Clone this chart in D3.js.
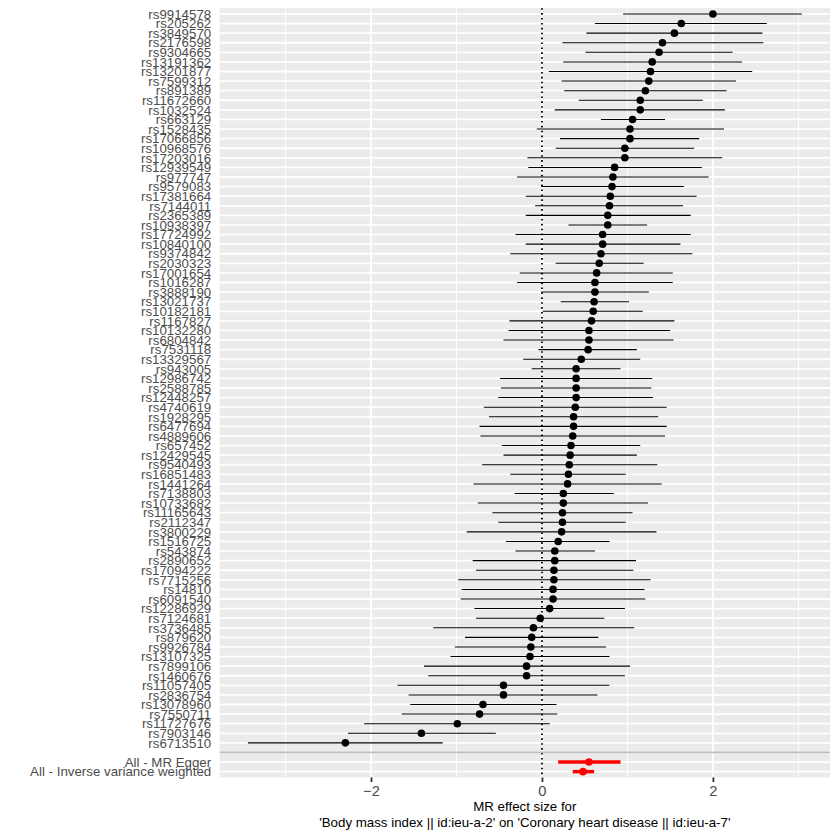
<!DOCTYPE html>
<html>
<head>
<meta charset="utf-8">
<script src="https://cdn.jsdelivr.net/npm/d3@7"></script>
<style>
  body { margin: 0; background: #fff; }
  svg { font-family: "Liberation Sans", Arial, sans-serif; }
</style>
</head>
<body>
<div id="chart"></div>
<script>
// SNP rows, top to bottom
var snps = ["rs9914578","rs205262","rs3849570","rs2176598","rs9304665","rs13191362","rs13201877","rs7599312",
  "rs891389","rs11672660","rs1032524","rs663129","rs1528435","rs17066856","rs10968576","rs17203016",
  "rs12939549","rs977747","rs9579083","rs17381664","rs7144011","rs2365389","rs10938397","rs17724992",
  "rs10840100","rs9374842","rs2030323","rs17001654","rs1016287","rs3888190","rs13021737","rs10182181",
  "rs1167827","rs10132280","rs6804842","rs7531118","rs13329567","rs943005","rs12986742","rs2588785",
  "rs12448257","rs4740619","rs1928295","rs6477694","rs4889606","rs657452","rs12429545","rs9540493",
  "rs16851483","rs1441264","rs7138803","rs10733682","rs11165643","rs2112347","rs3800229","rs1516725",
  "rs543874","rs2890652","rs17094222","rs7715256","rs14810","rs6091540","rs12286929","rs7124681",
  "rs3736485","rs879620","rs9926784","rs13107325","rs7899106","rs1460676","rs11057405","rs2836754",
  "rs13078960","rs7550711","rs11727676","rs7903146","rs6713510"];
var beta = [2.00,1.63,1.55,1.41,1.37,1.29,1.27,1.25,1.21,1.15,1.15,1.06,1.03,1.03,0.97,0.97,
  0.85,0.83,0.82,0.80,0.79,0.77,0.77,0.71,0.71,0.69,0.67,0.64,0.62,0.62,0.61,0.60,
  0.58,0.55,0.55,0.54,0.46,0.40,0.40,0.40,0.40,0.39,0.37,0.37,0.36,0.34,0.33,0.32,
  0.31,0.30,0.25,0.25,0.24,0.24,0.23,0.19,0.15,0.15,0.14,0.14,0.13,0.13,0.09,-0.02,
  -0.10,-0.12,-0.13,-0.14,-0.18,-0.18,-0.45,-0.45,-0.69,-0.73,-0.99,-1.41,-2.30];
var lower = [0.95,0.62,0.52,0.24,0.51,0.25,0.08,0.23,0.26,0.43,0.15,0.69,-0.06,0.21,0.16,-0.17,
  -0.16,-0.29,-0.01,-0.19,-0.08,-0.19,0.31,-0.31,-0.19,-0.37,0.16,-0.26,-0.29,-0.01,0.22,0.01,
  -0.38,-0.39,-0.45,-0.04,-0.22,-0.12,-0.49,-0.48,-0.51,-0.68,-0.62,-0.73,-0.72,-0.47,-0.45,-0.70,
  -0.37,-0.80,-0.32,-0.75,-0.58,-0.51,-0.88,-0.42,-0.31,-0.81,-0.77,-0.98,-0.94,-0.95,-0.79,-0.77,
  -1.27,-0.90,-1.02,-1.07,-1.38,-1.33,-1.69,-1.56,-1.54,-1.64,-2.08,-2.27,-3.44];
var upper = [3.04,2.63,2.58,2.59,2.23,2.34,2.46,2.27,2.16,1.88,2.14,1.44,2.13,1.84,1.78,2.11,
  1.87,1.95,1.66,1.81,1.65,1.74,1.23,1.74,1.62,1.76,1.19,1.53,1.53,1.25,1.02,1.18,
  1.55,1.50,1.54,1.11,1.15,0.92,1.29,1.28,1.30,1.46,1.36,1.46,1.44,1.15,1.11,1.35,
  0.98,1.40,0.84,1.24,1.06,0.98,1.34,0.79,0.62,1.10,1.07,1.27,1.20,1.21,0.97,0.73,
  1.08,0.66,0.75,0.79,1.03,0.97,0.79,0.65,0.17,0.18,0.09,-0.54,-1.16];

// summary rows
var methods = ["All - MR Egger","All - Inverse variance weighted"];
var methodBeta = [0.55,0.48];
var methodLower = [0.19,0.36];
var methodUpper = [0.92,0.61];

var xMajor = [-2,0,2];
var xMinor = [-3,-1,1,3];
var xTitle = ["MR effect size for", "'Body mass index || id:ieu-a-2' on 'Coronary heart disease || id:ieu-a-7'"];

var W = 840, H = 840;
var panel = {left: 219.7, right: 830, top: 8.2, bottom: 777.4};

var svg = d3.select('#chart').append('svg')
    .attr('width', W)
    .attr('height', H);

var x = d3.scaleLinear()
    .domain([-3.77, 3.37])
    .range([panel.left, panel.right]);

var rows = snps.concat([""]).concat(methods);
var y = d3.scalePoint()
    .domain(rows)
    .range([panel.top, panel.bottom])
    .padding(0.6);

// panel background
svg.append('rect')
    .attr('x', panel.left).attr('y', panel.top)
    .attr('width', panel.right - panel.left)
    .attr('height', panel.bottom - panel.top)
    .attr('fill', '#ebebeb');

// grid
svg.selectAll('.minor')
    .data(xMinor).enter().append('line')
    .attr('x1', d => x(d)).attr('x2', d => x(d))
    .attr('y1', panel.top).attr('y2', panel.bottom)
    .attr('stroke', '#fff').attr('stroke-width', 0.9);
svg.selectAll('.major')
    .data(xMajor).enter().append('line')
    .attr('x1', d => x(d)).attr('x2', d => x(d))
    .attr('y1', panel.top).attr('y2', panel.bottom)
    .attr('stroke', '#fff').attr('stroke-width', 1.8);
svg.selectAll('.hgrid')
    .data(rows).enter().append('line')
    .attr('x1', panel.left).attr('x2', panel.right)
    .attr('y1', d => y(d)).attr('y2', d => y(d))
    .attr('stroke', '#fff').attr('stroke-width', 1.8);

// zero line
svg.append('line')
    .attr('x1', x(0)).attr('x2', x(0))
    .attr('y1', panel.top).attr('y2', panel.bottom)
    .attr('stroke', '#000').attr('stroke-width', 1.8)
    .attr('stroke-dasharray', '1.6,3.3');

// SNP estimates
var snpData = snps.map((s, i) => ({snp: s, b: beta[i], lo: lower[i], up: upper[i]}));
svg.selectAll('.ci')
    .data(snpData).enter().append('line')
    .attr('x1', d => x(d.lo)).attr('x2', d => x(d.up))
    .attr('y1', d => y(d.snp)).attr('y2', d => y(d.snp))
    .attr('stroke', '#000').attr('stroke-width', 1.05);
svg.selectAll('.pt')
    .data(snpData).enter().append('circle')
    .attr('cx', d => x(d.b)).attr('cy', d => y(d.snp))
    .attr('r', 3.8).attr('fill', '#000');

// separator
svg.append('line')
    .attr('x1', panel.left).attr('x2', panel.right)
    .attr('y1', y("")).attr('y2', y(""))
    .attr('stroke', '#bebebe').attr('stroke-width', 1.8);

// summary estimates
var sumData = methods.map((m, i) => ({snp: m, b: methodBeta[i], lo: methodLower[i], up: methodUpper[i]}));
svg.selectAll('.sci')
    .data(sumData).enter().append('line')
    .attr('x1', d => x(d.lo)).attr('x2', d => x(d.up))
    .attr('y1', d => y(d.snp)).attr('y2', d => y(d.snp))
    .attr('stroke', '#ff0000').attr('stroke-width', 3.5);
svg.selectAll('.spt')
    .data(sumData).enter().append('circle')
    .attr('cx', d => x(d.b)).attr('cy', d => y(d.snp))
    .attr('r', 3.8).attr('fill', '#ff0000');

// y axis labels
var yAxis = svg.append('g')
    .attr('transform', 'translate(' + panel.left + ',0)')
    .call(d3.axisLeft(y).tickSize(0).tickPadding(8.5));
yAxis.select('.domain').remove();
yAxis.selectAll('text')
    .attr('fill', '#4d4d4d')
    .style('font-size', '13.3px')
    .style('font-family', '"Liberation Sans", Arial, sans-serif');

// x axis
var xAxis = svg.append('g')
    .attr('transform', 'translate(0,' + panel.bottom + ')')
    .call(d3.axisBottom(x).tickValues(xMajor).tickSize(4.6).tickPadding(3.7).tickFormat(d3.format('d')));
xAxis.select('.domain').remove();
xAxis.selectAll('line').attr('stroke', '#333').attr('stroke-width', 1.8);
xAxis.selectAll('text')
    .attr('fill', '#4d4d4d')
    .style('font-size', '14.7px')
    .style('font-family', '"Liberation Sans", Arial, sans-serif');

// x title
svg.append('text')
    .attr('text-anchor', 'middle')
    .attr('x', (panel.left + panel.right) / 2)
    .attr('y', 811)
    .style('font-size', '13.3px')
    .attr('fill', '#000')
    .selectAll('tspan')
    .data(xTitle).enter().append('tspan')
    .attr('x', (panel.left + panel.right) / 2)
    .attr('dy', (d, i) => i === 0 ? 0 : 16)
    .text(d => d);
</script>
</body>
</html>
